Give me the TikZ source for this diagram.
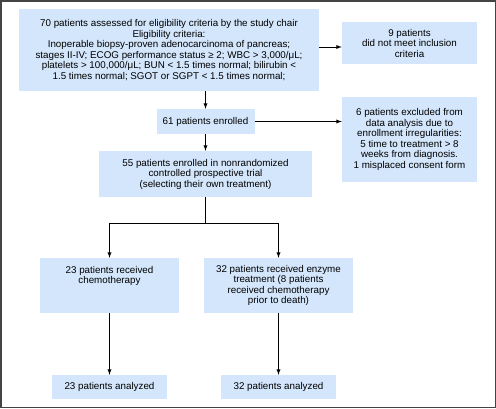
\documentclass[tikz,border=0pt]{standalone}
\usepackage{fontspec}
\setmainfont{Liberation Sans}
\definecolor{boxblue}{RGB}{211,230,251}
\definecolor{framegray}{RGB}{68,68,68}
\tikzset{
  flowbox/.style={fill=boxblue, align=center, inner sep=2pt,
    font=\fontsize{9.8}{10.5}\selectfont},
  link/.style={line width=0.9pt, ->, >=latex}
}
\begin{document}
\begin{tikzpicture}[x=1pt, y=-1pt]
      \useasboundingbox (0,0) rectangle (496,408);
      \draw[framegray, line width=1.5pt] (0.75,0.75) rectangle (495.25,407.25);
      % first screening
      \node[flowbox, minimum width=300pt, minimum height=82pt] (screen) at (169,50)
        {70 patients assessed for eligibility criteria by the study chair\\
         Eligibility criteria:\\
         Inoperable biopsy-proven adenocarcinoma of pancreas;\\
         stages II-IV; ECOG performance status ≥ 2; WBC > 3,000/μL;\\
         platelets > 100,000/μL; BUN < 1.5 times normal; bilirubin <\\
         1.5 times normal; SGOT or SGPT < 1.5 times normal;};
      \node[flowbox, minimum width=135pt, minimum height=42pt] (notmet) at (409.5,43)
        {9 patients\\ did not meet inclusion\\ criteria};
      \node[flowbox, minimum width=98pt, minimum height=25pt] (enrolled) at (205.5,121.5)
        {61 patients enrolled};
      \node[flowbox, minimum width=135pt, minimum height=85pt] (excluded) at (409.5,139.5)
        {6 patients excluded from\\ data analysis due to\\ enrollment irregularities:\\
         5 time to treatment > 8\\ weeks from diagnosis.\\ 1 misplaced consent form};
      \node[flowbox, minimum width=213pt, minimum height=46pt] (trial) at (205.5,174)
        {55 patients enrolled in nonrandomized\\ controlled prospective trial\\
         (selecting their own treatment)};
      % the two arms
      \node[flowbox, minimum width=139pt, minimum height=55pt] (chemo) at (109.5,285.5)
        {23 patients received\\ chemotherapy\\ \mbox{}\\ \mbox{}};
      \node[flowbox, minimum width=149pt, minimum height=55pt] (enzyme) at (278.5,285.5)
        {32 patients received enzyme\\ treatment (8 patients\\ received chemotherapy\\
         prior to death)};
      \node[flowbox, minimum width=115pt, minimum height=24pt] (chemodone) at (109.5,387)
        {23 patients analyzed};
      \node[flowbox, minimum width=115pt, minimum height=24pt] (enzymedone) at (278.5,387)
        {32 patients analyzed};
      % connectors
      \draw[link] (screen.south -| enrolled.north) -- (enrolled.north);
      \draw[link] ([yshift=-4pt]notmet.west -| screen.east) -- ([yshift=-4pt]notmet.west);
      \draw[link] (enrolled.east) -- (enrolled.east -| excluded.west);
      \draw[link] (enrolled.south) -- (trial.north);
      \draw[line width=0.9pt] (trial.south) -- ++(0,26) coordinate (fork);
      \draw[link] (fork) -| (chemo.north);
      \draw[link] (fork) -| (enzyme.north);
      \draw[link] (chemo.south) -- (chemodone.north);
      \draw[link] (enzyme.south) -- (enzymedone.north);
    \end{tikzpicture}
\end{document}
